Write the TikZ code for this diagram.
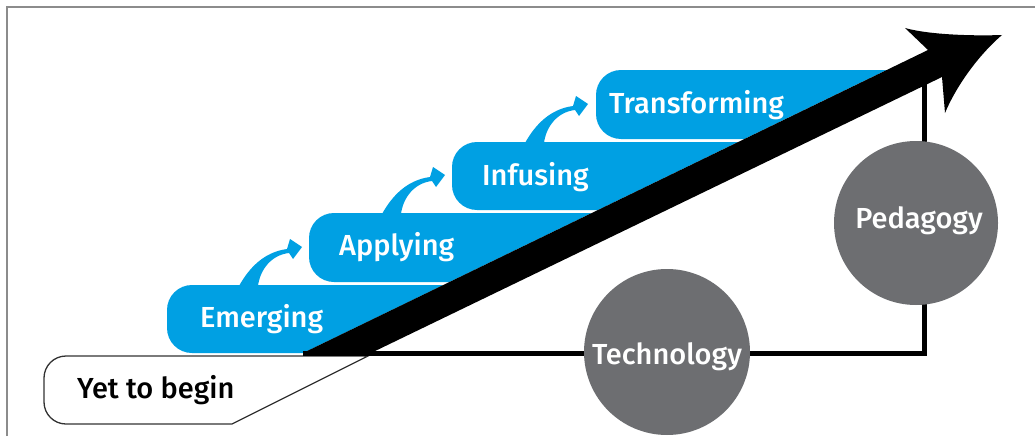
\documentclass[tikz,border=0pt]{standalone}
\usepackage{fontspec}
\newfontfamily\labelfont{Fira Sans}[UprightFont={* Medium}]
\definecolor{stepblue}{RGB}{0,160,227}
\definecolor{circgray}{RGB}{109,110,113}
\definecolor{framegray}{RGB}{140,140,140}
\definecolor{calloutline}{RGB}{50,50,50}
\tikzset{
  steptext/.style={anchor=base west, inner sep=0pt, text=white, font=\labelfont\fontsize{29}{34}\selectfont},
  circlenode/.style={circle, fill=circgray, inner sep=0pt, minimum size=#1},
  circtext/.style={anchor=base, inner sep=0pt, text=white, font=\labelfont\fontsize{29}{34}\selectfont},
  conn/.style={line width=5pt, black, line join=miter},
  swoosh/.pic={\fill[stepblue] (0,1) .. controls (10,-17) and (25,-33) .. (48,-36) -- (51,-46) -- (63,-38) -- (54,-26) -- (50,-32) .. controls (32,-30) and (21,-15) .. (19,1) -- cycle;}
}
\begin{document}
\begin{tikzpicture}[x=1pt,y=-1pt]
\useasboundingbox (0,0) rectangle (1035,436);
% frame (top and left edges visible)
\draw[framegray, line width=2pt] (6.5,436) -- (6.5,7.5) -- (1035,7.5);
% callout "Yet to begin"
\draw[calloutline, line width=1.3pt] (368,356) -- (66,356) arc[start angle=270, end angle=180, radius=22] -- (44,402) arc[start angle=180, end angle=90, radius=22] -- (232,424) -- cycle;
\node[anchor=base west, inner sep=0pt, text=black, font=\labelfont\fontsize{29}{34}\selectfont] (yet) at (77,398) {Yet to begin};
% blue steps, clipped by the upper edge of the arrow band
\begin{scope}
  \clip (0,353) -- (303,353) -- (1134,-50) -- (0,-50) -- cycle;
  \fill[stepblue, rounded corners=25pt] (167,285) rectangle (1060,353);
  \fill[stepblue, rounded corners=25pt] (309,213) rectangle (1060,282);
  \fill[stepblue, rounded corners=25pt] (452,142) rectangle (1060,210);
  \fill[stepblue, rounded corners=25pt] (596,70) rectangle (1060,139);
\end{scope}
\pic at (239,285) {swoosh};
\pic at (382,213) {swoosh};
\pic at (525,142) {swoosh};
\node[steptext] (emerging) at (200,327) {Emerging};
\node[steptext] (applying) at (339,255) {Applying};
\node[steptext] (infusing) at (482,185) {Infusing};
\node[steptext] (transforming) at (609,113) {Transforming};
% connector line
\coordinate (lstart) at (303,353);
\coordinate (lcorner) at (924,353);
\coordinate (ltop) at (924,82);
\draw[conn] (lstart) -- (lcorner) -- (ltop);
% big arrow
\fill[black] (303,353) -- (928,50) -- (905,28) .. controls (930,35) and (975,36) .. (1002,35) .. controls (982,52) and (958,82) .. (945,113) -- (942,77) -- (371,353) -- cycle;
% circles
\node[circlenode=166pt] (tech) at (667,352) {};
\node[circlenode=164pt] (ped) at (916,223) {};
\node[circtext] (techlabel) at (667,364) {Technology};
\node[circtext] (pedlabel) at (919,228) {Pedagogy};
\end{tikzpicture}
\end{document}
